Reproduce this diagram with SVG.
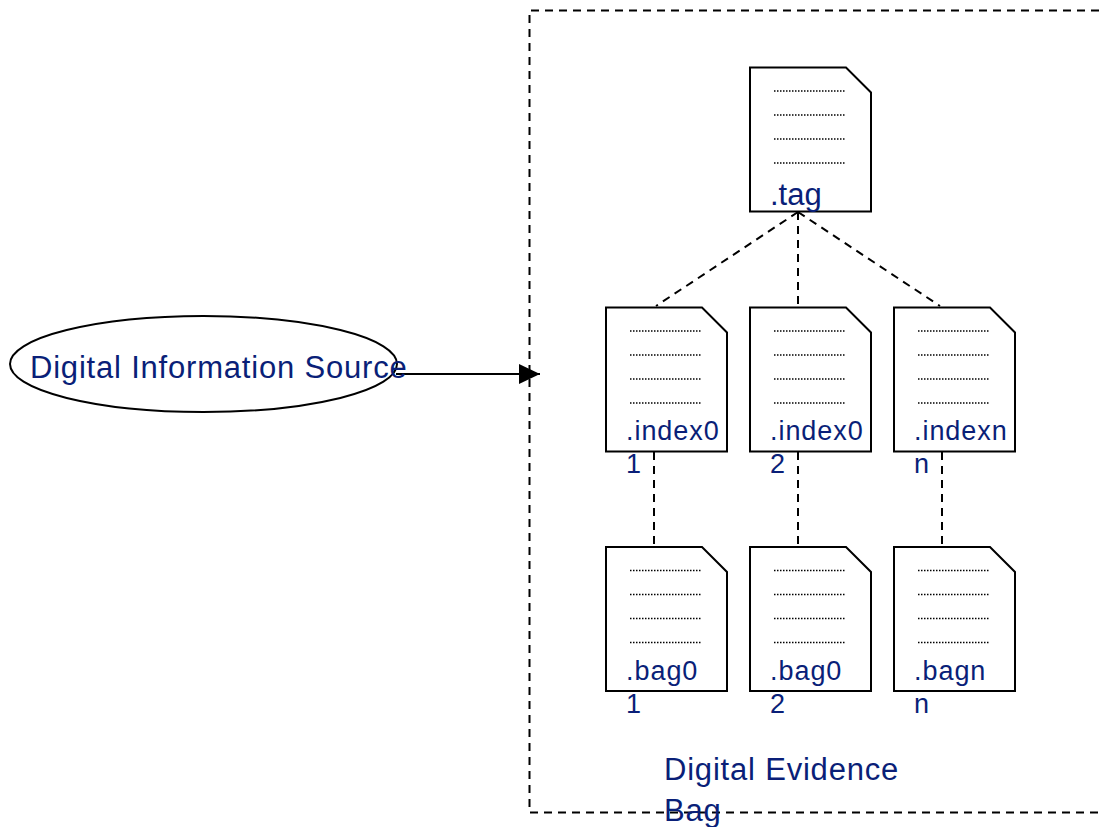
<svg xmlns="http://www.w3.org/2000/svg" xmlns:xlink="http://www.w3.org/1999/xlink" width="1099" height="827" viewBox="0 0 1099 827">
<style>
text{font-family:"Liberation Sans",Arial,sans-serif;fill:#0a1f78}
.lg{font-size:31px;letter-spacing:.8px}.tg{font-size:31px}.md{font-size:27px;letter-spacing:.95px}
.doc{fill:#fff;stroke:#000;stroke-width:2}
.dots{stroke:#000;stroke-width:1.500;stroke-dasharray:1.500 1.500;fill:none}
.dash{fill:none;stroke:#000;stroke-width:2;stroke-dasharray:8 6}
</style>
<defs>
<g id="d">
<path class="doc" d="M0 0H96L121 25V144H0Z"/>
<path class="dots" d="M24 23.500H96M24 47.500H96M24 71.500H96M24 95.500H96"/>
</g>
<marker id="ah" markerUnits="userSpaceOnUse" markerWidth="22" markerHeight="22" refX="21" refY="10" orient="auto"><path d="M0 0L21 10L0 20Z" fill="#000"/></marker>
</defs>
<g id="evidence-bag"><path class="dash" d="M1099 10.500H529.500V812.500H1099"/></g>
<g id="connectors">
<path class="dash" d="M798 212L656 306M798 212V306M798 212L940 306M654 452V546M798 452V546M942 452V546"/>
<path d="M396 374H540" fill="none" stroke="#000" stroke-width="2" marker-end="url(#ah)"/>
</g>
<g id="source"><ellipse cx="203.500" cy="364" rx="193.500" ry="48" fill="none" stroke="#000" stroke-width="2"/><text class="lg" x="30" y="378">Digital Information Source</text></g>
<g id="tag"><use xlink:href="#d" x="750" y="67.500"/><text class="tg" x="770" y="205">.tag</text></g>
<g id="index01"><use xlink:href="#d" x="606" y="307.500"/><text class="md" x="626" y="440">.index0</text><text class="md" x="626" y="473">1</text></g>
<g id="index02"><use xlink:href="#d" x="750" y="307.500"/><text class="md" x="770" y="440">.index0</text><text class="md" x="770" y="473">2</text></g>
<g id="indexnn"><use xlink:href="#d" x="894" y="307.500"/><text class="md" x="914" y="440">.indexn</text><text class="md" x="914" y="473">n</text></g>
<g id="bag01"><use xlink:href="#d" x="606" y="547"/><text class="md" x="626" y="680">.bag0</text><text class="md" x="626" y="713">1</text></g>
<g id="bag02"><use xlink:href="#d" x="750" y="547"/><text class="md" x="770" y="680">.bag0</text><text class="md" x="770" y="713">2</text></g>
<g id="bagnn"><use xlink:href="#d" x="894" y="547"/><text class="md" x="914" y="680">.bagn</text><text class="md" x="914" y="713">n</text></g>
<g id="bag-label"><text class="lg" x="664" y="780">Digital Evidence</text><text class="lg" x="664" y="821">Bag</text></g>
</svg>
